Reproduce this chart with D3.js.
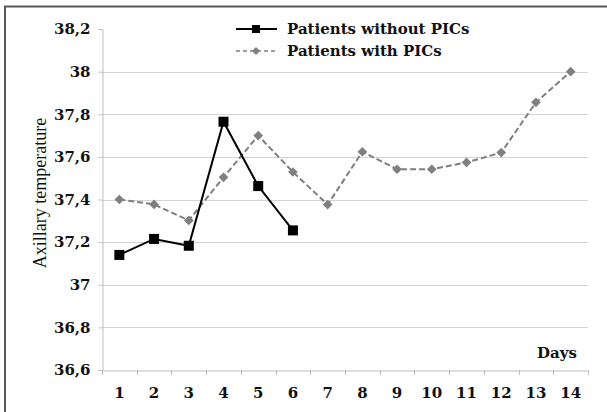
<!DOCTYPE html>
<html>
<head>
<meta charset="utf-8">
<script src="https://cdn.jsdelivr.net/npm/d3@7"></script>
<style>
  body { margin: 0; background: #fff; }
</style>
</head>
<body>
<div id="chart"></div>
<script>

// data
const days = [1, 2, 3, 4, 5, 6, 7, 8, 9, 10, 11, 12, 13, 14];
const withoutPICs = [37.14, 37.215, 37.183, 37.765, 37.463, 37.255];
const withPICs = [37.40, 37.377, 37.302, 37.504, 37.70, 37.529, 37.376, 37.624, 37.542, 37.542, 37.574, 37.62, 37.856, 38.0];
const yTicks = [36.6, 36.8, 37, 37.2, 37.4, 37.6, 37.8, 38, 38.2];
const seriesNames = ["Patients without PICs", "Patients with PICs"];

const W = 607, H = 412;
const fontFamily = "'Liberation Serif', 'Times New Roman', serif";
const boldFamily = "'DejaVu Serif', serif";

const svg = d3.select("#chart").append("svg")
  .attr("width", W)
  .attr("height", H);

svg.append("rect").attr("width", W).attr("height", H).attr("fill", "#fff");

// frame (only left and top edges visible)
svg.append("path")
  .attr("d", "M5," + H + " V6.5 H" + W)
  .attr("fill", "none")
  .attr("stroke", "#595959")
  .attr("stroke-width", 2);

const x = d3.scaleBand().domain(days).range([102, 588]);
const y = d3.scaleLinear().domain([36.6, 38.2]).range([370, 29]);

// gridlines
svg.append("g")
  .selectAll("line")
  .data(yTicks.filter(function(d) { return d > 36.6 && d < 38.2; }))
  .enter().append("line")
  .attr("x1", 102).attr("x2", 588)
  .attr("y1", function(d) { return Math.round(y(d)) + 0.5; })
  .attr("y2", function(d) { return Math.round(y(d)) + 0.5; })
  .attr("stroke", "#d4d4d4")
  .attr("stroke-width", 1);

// y axis
const yAxis = svg.append("g")
  .attr("transform", "translate(102.5,0)")
  .call(d3.axisLeft(y).tickValues(yTicks).tickSize(4).tickPadding(8)
    .tickFormat(function(d) { return String(d3.format("~g")(d)).replace(".", ","); }));
yAxis.select(".domain").attr("stroke", "#bdbdbd");
yAxis.selectAll(".tick line").attr("stroke", "#bdbdbd");
yAxis.selectAll("text")
  .attr("font-family", boldFamily)
  .attr("font-weight", "bold")
  .attr("font-size", 15)
  .attr("fill", "#111");

// x axis
const xAxis = svg.append("g")
  .attr("transform", "translate(0,370.5)")
  .call(d3.axisBottom(x).tickSize(0).tickPadding(17));
xAxis.select(".domain").attr("stroke", "#bdbdbd");
xAxis.selectAll("text")
  .attr("font-family", boldFamily)
  .attr("font-weight", "bold")
  .attr("font-size", 15)
  .attr("fill", "#111");

// category boundary ticks
svg.append("g")
  .selectAll("line")
  .data(days.concat([15]))
  .enter().append("line")
  .attr("x1", function(d, i) { return Math.round(102 + i * x.step()) + 0.5; })
  .attr("x2", function(d, i) { return Math.round(102 + i * x.step()) + 0.5; })
  .attr("y1", 370).attr("y2", 375)
  .attr("stroke", "#bdbdbd");

// titles
svg.append("text")
  .attr("transform", "translate(46,193) rotate(-90)")
  .attr("text-anchor", "middle")
  .attr("font-family", fontFamily)
  .attr("font-size", 18)
  .attr("fill", "#111")
  .text("Axillary temperature");

svg.append("text")
  .attr("x", 577).attr("y", 358)
  .attr("text-anchor", "end")
  .attr("font-family", boldFamily)
  .attr("font-weight", "bold")
  .attr("font-size", 15)
  .attr("fill", "#111")
  .text("Days");

const cx = function(i) { return x(days[i]) + x.bandwidth() / 2; };

// with PICs: gray dashed + diamonds
svg.append("path")
  .datum(withPICs)
  .attr("fill", "none")
  .attr("stroke", "#7f7f7f")
  .attr("stroke-width", 2)
  .attr("stroke-dasharray", "6,3")
  .attr("d", d3.line().x(function(d, i) { return cx(i); }).y(function(d) { return y(d); }));

svg.append("g")
  .selectAll("path")
  .data(withPICs)
  .enter().append("path")
  .attr("transform", function(d, i) { return "translate(" + cx(i) + "," + y(d) + ")"; })
  .attr("d", d3.symbol(d3.symbolDiamond2, 60))
  .attr("fill", "#808080");

// without PICs: black solid + squares
svg.append("path")
  .datum(withoutPICs)
  .attr("fill", "none")
  .attr("stroke", "#000")
  .attr("stroke-width", 2)
  .attr("d", d3.line().x(function(d, i) { return cx(i); }).y(function(d) { return y(d); }));

svg.append("g")
  .selectAll("rect")
  .data(withoutPICs)
  .enter().append("rect")
  .attr("x", function(d, i) { return cx(i) - 5; })
  .attr("y", function(d) { return y(d) - 5; })
  .attr("width", 10).attr("height", 10)
  .attr("fill", "#000");

// legend
const legend = svg.append("g");
const legY = [29, 51];

legend.append("line")
  .attr("x1", 236).attr("x2", 277).attr("y1", legY[0]).attr("y2", legY[0])
  .attr("stroke", "#000").attr("stroke-width", 2);
legend.append("rect")
  .attr("x", 252).attr("y", legY[0] - 4).attr("width", 8).attr("height", 8)
  .attr("fill", "#000");

legend.append("line")
  .attr("x1", 236).attr("x2", 277).attr("y1", legY[1]).attr("y2", legY[1])
  .attr("stroke", "#7f7f7f").attr("stroke-width", 1.5).attr("stroke-dasharray", "4,3");
legend.append("path")
  .attr("transform", "translate(256," + legY[1] + ")")
  .attr("d", d3.symbol(d3.symbolDiamond2, 40))
  .attr("fill", "#808080");

legend.selectAll("text")
  .data(seriesNames)
  .enter().append("text")
  .attr("x", 287)
  .attr("y", function(d, i) { return legY[i] + 5; })
  .attr("font-family", boldFamily)
  .attr("font-weight", "bold")
  .attr("font-size", 15)
  .attr("fill", "#111")
  .text(function(d) { return d; });

</script>
</body>
</html>
